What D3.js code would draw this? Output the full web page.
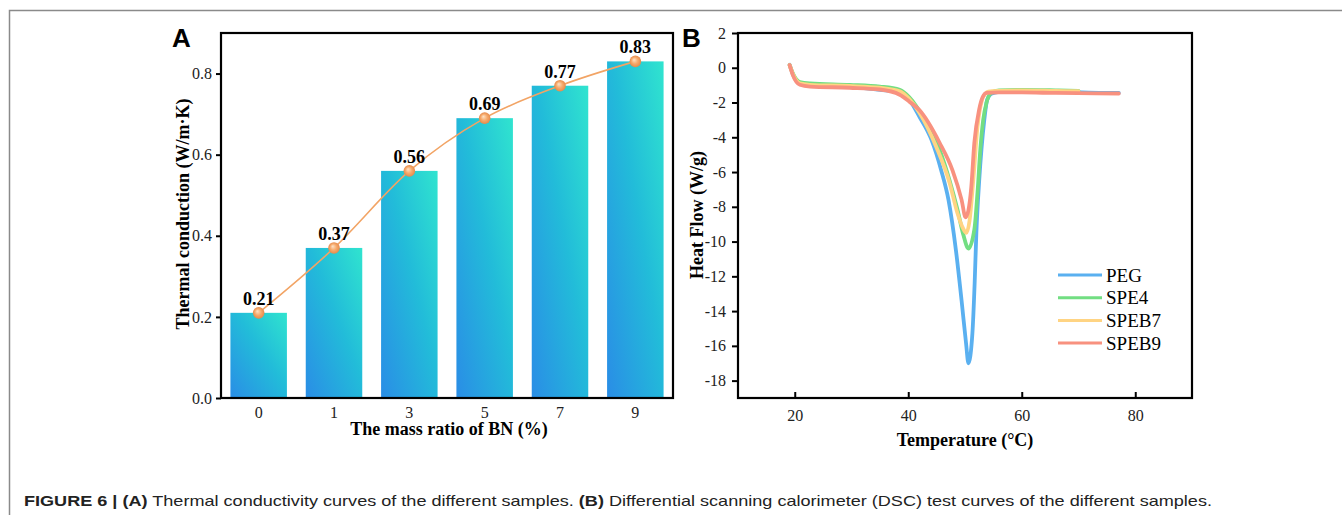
<!DOCTYPE html>
<html>
<head>
<meta charset="utf-8">
<script src="https://cdn.jsdelivr.net/npm/d3@7"></script>
<style>
  body { margin: 0; background: #fff; }
  svg { display: block; }
</style>
</head>
<body>
<div id="container"></div>
<script>
// ---- panel A data ----
const ratios = ['0', '1', '3', '5', '7', '9']
const conduction = [0.21, 0.37, 0.56, 0.69, 0.77, 0.83]
const condTicks = [0, 0.2, 0.4, 0.6, 0.8]

// ---- panel B data ----
const seriesNames = ['PEG', 'SPE4', 'SPEB7', 'SPEB9']
const seriesColors = ['#5ab0f0', '#72de82', '#ffd483', '#f8917f']
const pegT = [19.1, 19.7, 20.9, 22.7, 29.7, 35.0, 38.5, 40.2, 42.0, 44.1, 45.8, 47.1, 48.4, 49.4, 50.2, 50.6, 51.3, 51.7, 52.0, 52.5, 52.9, 53.4, 53.9, 54.6, 56.0, 59.6, 66.6, 73.6, 77.1]
const pegH = [0.17, -0.40, -0.87, -0.98, -1.10, -1.27, -1.44, -1.85, -2.83, -4.15, -5.89, -7.62, -10.5, -13.4, -15.9, -17.0, -15.3, -12.4, -9.5, -6.5, -4.7, -3.0, -1.85, -1.5, -1.38, -1.33, -1.38, -1.44, -1.45]
const spe4T = [19.1, 19.7, 20.9, 22.7, 29.7, 35.0, 38.5, 40.2, 42.9, 45.5, 47.3, 48.7, 49.7, 50.6, 51.65, 52.2, 52.7, 53.2, 53.8, 54.6, 56.0, 60, 66, 70]
const spe4H = [0.15, -0.35, -0.82, -0.90, -0.98, -1.08, -1.27, -1.7, -3.0, -4.7, -6.5, -8.2, -9.6, -10.4, -9.3, -7.2, -4.7, -3.0, -2.0, -1.45, -1.3, -1.27, -1.3, -1.33]
const speb7T = [19.1, 19.7, 20.9, 22.7, 29.7, 35.0, 38.5, 40.2, 42.0, 45.0, 47.26, 48.7, 49.6, 50.25, 50.8, 51.5, 52.2, 53.0, 53.6, 54.1, 56.0, 60, 66, 70]
const speb7H = [0.15, -0.38, -0.9, -0.98, -1.05, -1.15, -1.35, -1.8, -2.6, -4.6, -6.6, -8.4, -9.2, -9.5, -8.8, -6.3, -3.4, -1.85, -1.5, -1.38, -1.33, -1.3, -1.33, -1.35]
const speb9T = [19.1, 19.7, 20.9, 22.7, 29.7, 35.0, 38.5, 40.2, 42.0, 45.5, 47.8, 49.4, 50.1, 50.6, 51.1, 51.65, 52.5, 53.1, 53.8, 56.0, 60, 66, 73, 77.1]
const speb9H = [0.15, -0.45, -0.98, -1.08, -1.15, -1.25, -1.55, -1.95, -2.45, -4.3, -5.9, -7.6, -8.6, -8.2, -6.9, -4.3, -2.4, -1.7, -1.45, -1.42, -1.42, -1.45, -1.47, -1.48]
const tempTicks = [20, 40, 60, 80]
const heatTicks = [2, 0, -2, -4, -6, -8, -10, -12, -14, -16, -18]

const W = 1342
const H = 515
const serif = '"Liberation Serif", "Times New Roman", serif'
const sans = '"Liberation Sans", Arial, sans-serif'

const svg = d3.select('#container').append('svg')
  .attr('width', W)
  .attr('height', H)

const defs = svg.append('defs')
const barGrad = defs.append('linearGradient')
  .attr('id', 'barGrad')
  .attr('x1', 0).attr('y1', 1).attr('x2', 1).attr('y2', 0)
barGrad.append('stop').attr('offset', '0%').attr('stop-color', '#2a8de6')
barGrad.append('stop').attr('offset', '55%').attr('stop-color', '#22bcd9')
barGrad.append('stop').attr('offset', '100%').attr('stop-color', '#30e4cf')

const dotGrad = defs.append('radialGradient')
  .attr('id', 'dotGrad')
  .attr('fx', 0.38).attr('fy', 0.35)
dotGrad.append('stop').attr('offset', '0%').attr('stop-color', '#fde3c8')
dotGrad.append('stop').attr('offset', '55%').attr('stop-color', '#f6aa6c')
dotGrad.append('stop').attr('offset', '100%').attr('stop-color', '#e58a4c')

// page border (gray)
svg.append('path')
  .attr('d', `M9.5,${H} V10.5 H${W}`)
  .attr('fill', 'none')
  .attr('stroke', '#8a8a8a')
  .attr('stroke-width', 1.5)

// ================= PANEL A =================
const aLeft = 221, aRight = 673, aTop = 33, aBottom = 398

const x = d3.scaleBand()
  .domain(ratios)
  .range([aLeft, aRight])
  .paddingInner(0.25)
  .paddingOuter(0.125)

const y = d3.scaleLinear()
  .domain([0, 0.9])
  .range([aBottom, aTop])

const barRows = ratios.map((r, i) => ({ r, v: conduction[i] }))

svg.append('g')
  .selectAll('rect')
  .data(barRows)
  .enter()
  .append('rect')
  .attr('x', d => x(d.r))
  .attr('y', d => y(d.v))
  .attr('width', x.bandwidth())
  .attr('height', d => aBottom - y(d.v))
  .attr('fill', 'url(#barGrad)')

// connecting line + dots
const line = d3.line()
  .x(d => x(d.r) + x.bandwidth() / 2)
  .y(d => y(d.v))
  .curve(d3.curveMonotoneX)

svg.append('path')
  .datum(barRows)
  .attr('d', line)
  .attr('fill', 'none')
  .attr('stroke', '#f2a465')
  .attr('stroke-width', 1.6)

svg.append('g')
  .selectAll('circle')
  .data(barRows)
  .enter()
  .append('circle')
  .attr('cx', d => x(d.r) + x.bandwidth() / 2)
  .attr('cy', d => y(d.v))
  .attr('r', 5.8)
  .attr('fill', 'url(#dotGrad)')

svg.append('g')
  .selectAll('text')
  .data(barRows)
  .enter()
  .append('text')
  .attr('x', d => x(d.r) + x.bandwidth() / 2)
  .attr('y', d => y(d.v) - 8)
  .attr('text-anchor', 'middle')
  .style('font-family', serif)
  .style('font-weight', 'bold')
  .style('font-size', '18px')
  .text(d => d.v.toFixed(2))

// axes
const aLeftAxis = svg.append('g')
  .attr('transform', `translate(${aLeft},0)`)
  .call(d3.axisLeft(y).tickValues(condTicks).tickFormat(d3.format('.1f')).tickSize(5).tickPadding(4))
const aBottomAxis = svg.append('g')
  .attr('transform', `translate(0,${aBottom})`)
  .call(d3.axisBottom(x).tickSize(0).tickPadding(9))

// frame
svg.append('rect')
  .attr('x', aLeft).attr('y', aTop)
  .attr('width', aRight - aLeft).attr('height', aBottom - aTop)
  .attr('fill', 'none')
  .attr('stroke', '#000')
  .attr('stroke-width', 2.2)

svg.append('text')
  .attr('x', 449).attr('y', 435)
  .attr('text-anchor', 'middle')
  .style('font-family', serif).style('font-weight', 'bold').style('font-size', '18px')
  .text('The mass ratio of BN (%)')
svg.append('text')
  .attr('transform', 'translate(183,214)rotate(-90)')
  .attr('text-anchor', 'middle')
  .attr('dy', '0.35em')
  .style('font-family', serif).style('font-weight', 'bold').style('font-size', '18px')
  .text('Thermal conduction (W/m·K)')
svg.append('text')
  .attr('x', 172).attr('y', 47)
  .style('font-family', sans).style('font-weight', 'bold').style('font-size', '26px')
  .text('A')

// ================= PANEL B =================
const bLeft = 738, bRight = 1192, bTop = 33, bBottom = 398

const tx = d3.scaleLinear()
  .domain([10, 90])
  .range([bLeft, bRight])
const hy = d3.scaleLinear()
  .domain([-19, 2])
  .range([bBottom, bTop])

const curves = [
  { name: seriesNames[0], color: seriesColors[0], T: pegT, Hf: pegH },
  { name: seriesNames[1], color: seriesColors[1], T: spe4T, Hf: spe4H },
  { name: seriesNames[2], color: seriesColors[2], T: speb7T, Hf: speb7H },
  { name: seriesNames[3], color: seriesColors[3], T: speb9T, Hf: speb9H }
]

const dscLine = d3.line()
  .x(d => tx(d[0]))
  .y(d => hy(d[1]))
  .curve(d3.curveMonotoneX)

svg.append('g')
  .selectAll('path')
  .data(curves)
  .enter()
  .append('path')
  .attr('d', c => dscLine(c.T.map((t, i) => [t, c.Hf[i]])))
  .attr('fill', 'none')
  .attr('stroke', c => c.color)
  .attr('stroke-width', 3.8)
  .attr('stroke-linejoin', 'round')
  .attr('stroke-linecap', 'round')

const bLeftAxis = svg.append('g')
  .attr('transform', `translate(${bLeft},0)`)
  .call(d3.axisLeft(hy).tickValues(heatTicks)
    .tickFormat(d => d < 0 ? '-' + Math.abs(d) : String(d))
    .tickSize(6).tickPadding(6))
const bBottomAxis = svg.append('g')
  .attr('transform', `translate(0,${bBottom})`)
  .call(d3.axisBottom(tx).tickValues(tempTicks).tickSize(-6).tickPadding(12))

svg.append('rect')
  .attr('x', bLeft).attr('y', bTop)
  .attr('width', bRight - bLeft).attr('height', bBottom - bTop)
  .attr('fill', 'none')
  .attr('stroke', '#000')
  .attr('stroke-width', 2.2)

// legend
const legend = svg.append('g')
curves.forEach((c, i) => {
  const ly = 275 + i * 22.7
  legend.append('line')
    .attr('x1', 1058).attr('x2', 1102)
    .attr('y1', ly).attr('y2', ly)
    .attr('stroke', c.color)
    .attr('stroke-width', 3)
  legend.append('text')
    .attr('x', 1106).attr('y', ly)
    .attr('dy', '0.35em')
    .style('font-family', serif).style('font-size', '19px')
    .text(c.name)
})

svg.append('text')
  .attr('x', 965).attr('y', 446)
  .attr('text-anchor', 'middle')
  .style('font-family', serif).style('font-weight', 'bold').style('font-size', '18px')
  .text('Temperature (°C)')
svg.append('text')
  .attr('transform', 'translate(697,215)rotate(-90)')
  .attr('text-anchor', 'middle')
  .attr('dy', '0.35em')
  .style('font-family', serif).style('font-weight', 'bold').style('font-size', '18px')
  .text('Heat Flow (W/g)')
svg.append('text')
  .attr('x', 682).attr('y', 47)
  .style('font-family', sans).style('font-weight', 'bold').style('font-size', '26px')
  .text('B')

// axis styling for both panels
;[aLeftAxis, aBottomAxis, bLeftAxis, bBottomAxis].forEach(g => {
  g.select('.domain').remove()
  g.selectAll('.tick line').attr('stroke', '#000').attr('stroke-width', 2)
  g.selectAll('.tick text')
    .attr('fill', '#222')
    .style('font-family', serif)
    .style('font-size', '16px')
})

// caption
const caption = svg.append('text')
  .attr('x', 24).attr('y', 506)
  .attr('textLength', 1188)
  .attr('lengthAdjust', 'spacingAndGlyphs')
  .style('font-family', sans).style('font-size', '15px')
  .attr('fill', '#222')
caption.append('tspan').style('font-weight', 'bold').text('FIGURE 6 | (A)')
caption.append('tspan').text(' Thermal conductivity curves of the different samples. ')
caption.append('tspan').style('font-weight', 'bold').text('(B)')
caption.append('tspan').text(' Differential scanning calorimeter (DSC) test curves of the different samples.')
</script>
</body>
</html>
